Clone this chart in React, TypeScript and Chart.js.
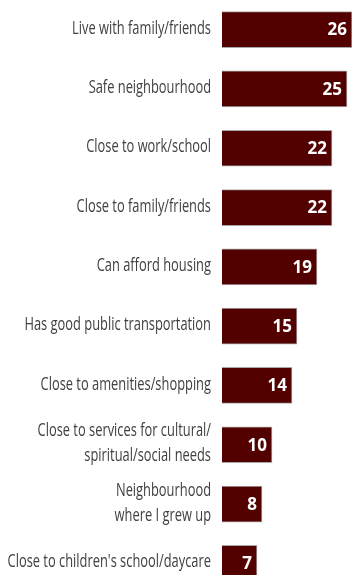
import React, { useEffect, useRef } from "react";
import { Chart, registerables } from "chart.js";

Chart.register(...registerables);

const categories: (string | string[])[] = [
  "Live with family/friends",
  "Safe neighbourhood",
  "Close to work/school",
  "Close to family/friends",
  "Can afford housing",
  "Has good public transportation",
  "Close to amenities/shopping",
  ["Close to services for cultural/", "spiritual/social needs"],
  ["Neighbourhood", "where I grew up"],
  "Close to children's school/daycare",
];

const values: number[] = [26, 25, 22, 22, 19, 15, 14, 10, 8, 7];

const BAR_COLOR = "#520000";
const BORDER_COLOR = "#a8a8a8";
const LABEL_COLOR = "#404040";
const LABEL_FONT = "18px 'Open Sans', 'Liberation Sans', sans-serif";

const categoryLabels = {
  id: "categoryLabels",
  afterDraw(chart: any) {
    const ctx = chart.ctx;
    const y = chart.scales.y;
    const right = chart.chartArea.left - 11;
    ctx.save();
    ctx.font = LABEL_FONT;
    const refW = ctx.measureText("Live with family/friends").width;
    const k = 139 / refW;
    ctx.fillStyle = LABEL_COLOR;
    ctx.textAlign = "right";
    ctx.textBaseline = "middle";
    const labels = chart.data.labels as (string | string[])[];
    labels.forEach((lab, i) => {
      const cy = y.getPixelForTick(i);
      const lines = Array.isArray(lab) ? lab : [lab];
      const lh = 25;
      lines.forEach((line, j) => {
        const ly = cy - ((lines.length - 1) * lh) / 2 + j * lh - 1;
        ctx.save();
        ctx.translate(right, ly);
        ctx.scale(k, 1);
        ctx.fillText(line, 0, 0);
        ctx.restore();
      });
    });
    ctx.restore();
  },
};

const valueLabels = {
  id: "valueLabels",
  afterDatasetsDraw(chart: any) {
    const ctx = chart.ctx;
    const meta = chart.getDatasetMeta(0);
    ctx.save();
    ctx.fillStyle = "#ffffff";
    ctx.font = "bold 17px 'Open Sans', 'DejaVu Sans', sans-serif";
    ctx.textAlign = "right";
    ctx.textBaseline = "middle";
    meta.data.forEach((bar: any, i: number) => {
      const v = chart.data.datasets[0].data[i];
      ctx.fillText(String(v), bar.x - 5, bar.y + 1);
    });
    ctx.restore();
  },
};

export default function App() {
  const ref = useRef<HTMLCanvasElement | null>(null);

  useEffect(() => {
    if (!ref.current) return;
    const chart = new Chart(ref.current, {
      type: "bar",
      data: {
        labels: categories,
        datasets: [
          {
            data: values,
            backgroundColor: BAR_COLOR,
            borderColor: BORDER_COLOR,
            borderWidth: 1,
            barThickness: 36,
          },
        ],
      },
      options: {
        indexAxis: "y",
        animation: false,
        responsive: false,
        devicePixelRatio: 1,
        layout: { padding: 0 },
        plugins: {
          legend: { display: false },
          tooltip: { enabled: false },
        },
        scales: {
          x: {
            display: false,
            min: 0,
            max: 26,
          },
          y: {
            grid: { display: false },
            border: { display: false },
            ticks: { display: false },
            afterFit: (s: any) => {
              s.width = 222;
              s.paddingTop = 0;
              s.paddingBottom = 0;
            },
          },
        },
      },
      plugins: [valueLabels, categoryLabels],
    });
    return () => chart.destroy();
  }, []);

  return (
    <div
      style={{
        position: "absolute",
        top: 0,
        left: 0,
        width: 352,
        height: 575,
        overflow: "hidden",
        background: "#ffffff",
      }}
    >
      <canvas ref={ref} width={352} height={593} style={{ display: "block" }} />
    </div>
  );
}
